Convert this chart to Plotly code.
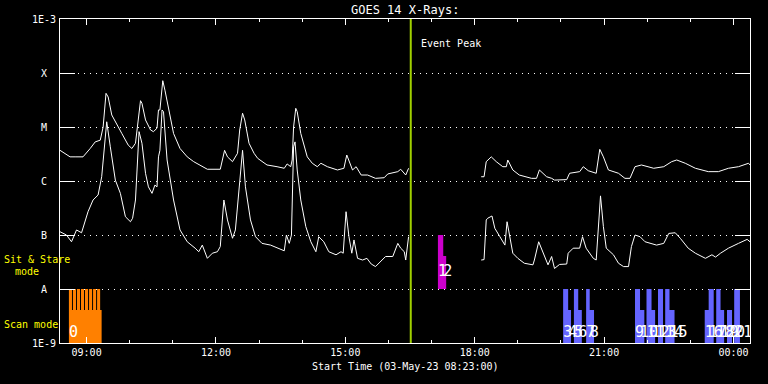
import numpy as np
import plotly.graph_objects as go

# ---------------- data ----------------
long_times_a = ["08:23","08:37","08:44","08:55","09:05","09:12","09:19","09:23","09:27","09:30",
                "09:35","09:42","09:49","09:58","10:03","10:08","10:11","10:15","10:17","10:22",
                "10:29","10:33","10:38","10:40","10:42","10:46","10:49","10:54","11:01","11:10",
                "11:20","11:29","11:38","11:48","12:06","12:09","12:12","12:16","12:23","12:30",
                "12:33","12:37","12:40","12:46","12:53","12:58","13:11","13:25","13:35","13:39",
                "13:44","13:46","13:48","13:51","13:53","13:58","14:07","14:14","14:21","14:26",
                "14:35","14:49","14:58","15:02","15:05","15:10","15:15","15:22","15:31","15:42",
                "15:54","15:59","16:13","16:17","16:24","16:28"]
long_flux_a = [3.7e-6,2.8e-6,2.8e-6,2.8e-6,4.0e-6,5.3e-6,5.7e-6,1.0e-5,4.2e-5,3.6e-5,
               1.67e-5,1.09e-5,7.6e-6,4.6e-6,4.0e-6,5.0e-6,1.17e-5,3.07e-5,2.75e-5,1.35e-5,
               8.8e-6,8.2e-6,9.5e-6,2.07e-5,2.07e-5,7.2e-5,4.8e-5,2.07e-5,7.6e-6,4.0e-6,
               2.8e-6,2.28e-6,1.98e-6,1.65e-6,1.65e-6,2.45e-6,3.7e-6,2.8e-6,2.28e-6,3.26e-6,
               8.8e-6,1.8e-5,1.35e-5,5.0e-6,3.26e-6,2.63e-6,1.98e-6,1.84e-6,1.72e-6,2.07e-6,
               1.84e-6,2.45e-6,1.0e-5,2.22e-5,1.92e-5,7.6e-6,2.8e-6,2.13e-6,1.84e-6,2.13e-6,
               1.84e-6,1.6e-6,1.72e-6,3.03e-6,2.45e-6,1.6e-6,1.84e-6,1.29e-6,1.29e-6,1.12e-6,
               1.15e-6,1.35e-6,1.49e-6,1.65e-6,1.29e-6,1.72e-6]

long_times_b = ["18:09","18:13","18:16","18:23","18:30","18:39","18:44","18:46","18:53","19:02",
                "19:19","19:26","19:30","19:40","19:47","19:51","20:08","20:12","20:26","20:31",
                "20:38","20:49","20:54","20:59","21:06","21:20","21:29","21:36","21:43","21:52",
                "22:09","22:23","22:34","22:41","22:53","23:07","23:25","23:39","23:53","00:07",
                "00:21","00:23"]
long_flux_b = [1.2e-6,1.2e-6,2.28e-6,2.8e-6,2.28e-6,1.84e-6,1.84e-6,2.45e-6,1.6e-6,1.29e-6,
               1.12e-6,1.12e-6,1.6e-6,1.2e-6,1.12e-6,1.04e-6,1.06e-6,1.39e-6,1.49e-6,1.84e-6,
               1.55e-6,1.39e-6,3.86e-6,2.8e-6,1.6e-6,1.39e-6,1.12e-6,1.12e-6,1.84e-6,1.98e-6,
               1.72e-6,1.84e-6,2.28e-6,2.45e-6,2.13e-6,1.72e-6,1.49e-6,1.49e-6,1.72e-6,1.84e-6,
               2.13e-6,1.98e-6]

short_times_a = ["08:23","08:32","08:39","08:46","08:53","08:58","09:02","09:09","09:16","09:21",
                 "09:25","09:28","09:33","09:40","09:47","09:54","10:01","10:04","10:08","10:11",
                 "10:13","10:17","10:22","10:26","10:31","10:35","10:38","10:40","10:42","10:45",
                 "10:47","10:52","11:01","11:10","11:20","11:31","11:36","11:41","11:48","11:55",
                 "12:02","12:06","12:11","12:16","12:23","12:27","12:32","12:37","12:41","12:48",
                 "12:55","13:04","13:16","13:25","13:35","13:38","13:42","13:45","13:48","13:50",
                 "13:53","13:58","14:05","14:12","14:19","14:23","14:30","14:37","14:47","14:54",
                 "14:57","15:01","15:05","15:09","15:12","15:17","15:24","15:30","15:36","15:42",
                 "15:47","15:56","16:06","16:13","16:17","16:22","16:24","16:28"]
short_flux_a = [1.15e-7,1.0e-7,7.5e-8,1.24e-7,1.1e-7,1.9e-7,2.7e-7,4.45e-7,5.5e-7,1.2e-6,
                5.0e-6,1.25e-5,4.3e-6,1.04e-6,5.9e-7,2.18e-7,1.76e-7,2.04e-7,4.45e-7,2.45e-6,
                8.2e-6,5.0e-6,1.39e-6,7.8e-7,5.9e-7,8.4e-7,7.8e-7,2.8e-6,3.7e-6,2.07e-5,
                1.92e-5,2.45e-6,4.45e-7,1.24e-7,7.5e-8,5.7e-8,4.9e-8,6.5e-8,3.7e-8,4.6e-8,
                4.9e-8,6.1e-8,4.45e-7,1.9e-7,8.7e-8,1.24e-7,7.8e-7,3.7e-6,7.8e-7,1.9e-7,
                9.3e-8,7.0e-8,6.5e-8,5.7e-8,5.1e-8,1.0e-7,7.0e-8,1.0e-7,4.3e-6,5.3e-6,
                1.6e-6,4.45e-7,1.43e-7,7.5e-8,4.9e-8,9.3e-8,7.5e-8,4.9e-8,4.3e-8,4.9e-8,
                4.6e-8,2.7e-7,9.3e-8,4.6e-8,8.1e-8,3.7e-8,3.44e-8,3.7e-8,2.9e-8,2.6e-8,
                3.0e-8,4.0e-8,4.0e-8,7.0e-8,5.7e-8,4.9e-8,3.44e-8,9.3e-8]

short_times_b = ["18:09","18:13","18:16","18:18","18:24","18:28","18:35","18:42","18:45","18:48",
                 "18:53","19:00","19:09","19:21","19:23","19:29","19:35","19:42","19:47","19:51",
                 "19:58","20:08","20:10","20:17","20:26","20:30","20:35","20:45","20:49","20:52",
                 "20:55","20:59","21:03","21:13","21:20","21:27","21:34","21:38","21:43","21:50",
                 "21:57","22:13","22:23","22:30","22:39","22:46","22:57","23:07","23:21","23:30",
                 "23:35","23:42","23:53","00:07","00:19","00:23"]
short_flux_b = [3.44e-8,3.5e-8,1.9e-7,2.04e-7,2.25e-7,1.33e-7,9.3e-8,6.5e-8,1.76e-7,1.07e-7,
                4.6e-8,3.7e-8,3.0e-8,2.8e-8,3.44e-8,7.5e-8,4.6e-8,2.8e-8,4.0e-8,2.4e-8,
                2.85e-8,2.9e-8,4.6e-8,5.7e-8,5.7e-8,9.3e-8,5.7e-8,3.7e-8,3.44e-8,1.24e-7,
                5.3e-7,1.43e-7,5.7e-8,4.3e-8,3.0e-8,2.6e-8,2.6e-8,6.1e-8,1.0e-7,9.3e-8,
                7.5e-8,6.5e-8,7.0e-8,1.07e-7,1.1e-7,8.7e-8,5.7e-8,4.6e-8,3.7e-8,4.3e-8,
                3.9e-8,4.6e-8,5.7e-8,7.0e-8,8.3e-8,7.5e-8]

event_peak = "16:31"

# Scan-mode observation 0 (orange): overall block plus raster stripes
orange_starts = ["08:35:24","08:35:24","08:41:00","08:46:36","08:52:12","08:57:48","09:03:24","09:09:00","09:14:36"]
orange_ends   = ["09:20:54","08:39:39","08:45:15","08:50:51","08:56:27","09:02:03","09:07:39","09:13:15","09:18:51"]
orange_tops   = [4.1e-9,1e-8,1e-8,1e-8,1e-8,1e-8,1e-8,1e-8,1e-8]
orange_ids = ["0"]
orange_id_times = ["08:35:24"]

# Sit & Stare observations (magenta)
sit_ids    = ["1","2"]
sit_starts = ["17:08:48","17:16:12"]
sit_ends   = ["17:16:12","17:20:18"]
sit_tops   = [1e-7,4.1e-8]

# Scan-mode observations (blue)
scan_ids    = ["3","4","5","6","7","8","9","10","11","12","13","14","15","16","17","18","19","20","21"]
scan_starts = ["20:03","20:10","20:18","20:24","20:35","20:40","21:43","21:50","21:59","22:06",
               "22:15","22:25","22:31","23:20","23:25:30","23:36","23:42","23:51","00:01"]
scan_ends   = ["20:10","20:14","20:24","20:29","20:40","20:46","21:50","21:56","22:06","22:11",
               "22:22","22:31","22:38","23:25:30","23:32:30","23:42","23:47","23:58","00:09"]
scan_tops   = [1e-8,4.1e-9,1e-8,4.1e-9,1e-8,4.1e-9,1e-8,4.1e-9,1e-8,4.1e-9,
               1e-8,1e-8,4.1e-9,4.1e-9,1e-8,1e-8,4.1e-9,4.1e-9,1e-8]

ytick_vals = [1e-9,1e-8,1e-7,1e-6,1e-5,1e-4,1e-3]
ytick_text = ["1E-9","A","B","C","M","X","1E-3"]
xtick_times = ["09:00","12:00","15:00","18:00","21:00","00:00"]

# ---------------- helpers ----------------
def ts(t):
    h = int(t.split(":")[0])
    day = 3 if h >= 8 else 4
    if t.count(":") == 1:
        t = t + ":00"
    return f"2023-05-{day:02d} {t}"

def rects(starts, ends, tops, base):
    xs, ys = [], []
    for s, e, top in zip(starts, ends, tops):
        xs += [ts(s), ts(s), ts(e), ts(e), ts(s), None]
        ys += [base, top, top, base, base, None]
    return xs, ys

FONT = "DejaVu Sans Mono"
fig = go.Figure()

# observation blocks
for starts, ends, tops, base, color in [
    (orange_starts, orange_ends, orange_tops, 1e-9, "#FF8000"),
    (sit_starts, sit_ends, sit_tops, 1e-8, "#CC00CC"),
    (scan_starts, scan_ends, scan_tops, 1e-9, "#6464FF"),
]:
    xs, ys = rects(starts, ends, tops, base)
    fig.add_trace(go.Scatter(x=xs, y=ys, mode="lines", fill="toself", fillcolor=color,
                             line=dict(width=0, color=color), hoverinfo="skip"))

# GOES curves
for t, f in [(long_times_a, long_flux_a), (long_times_b, long_flux_b),
             (short_times_a, short_flux_a), (short_times_b, short_flux_b)]:
    fig.add_trace(go.Scatter(x=[ts(v) for v in t], y=f, mode="lines",
                             line=dict(color="white", width=1)))

# event peak line
fig.add_trace(go.Scatter(x=[ts(event_peak), ts(event_peak)], y=[1e-9, 1e-3], mode="lines",
                         line=dict(color="#A0D000", width=2)))

# observation labels
for ids, starts, yv in [(orange_ids, orange_id_times, 1.5e-9), (sit_ids, sit_starts, 2.0e-8),
                        (scan_ids, scan_starts, 1.5e-9)]:
    fig.add_trace(go.Scatter(x=[ts(s) for s in starts], y=[yv] * len(ids), mode="text",
                             text=ids, textposition="middle right",
                             textfont=dict(family=FONT, size=15, color="white")))

annotations = []
for v, txt in zip(ytick_vals, ytick_text):
    annotations.append(dict(x=(44 - 60) / 690, xref="paper", y=np.log10(v), yref="y",
                            text=txt, showarrow=False, xanchor="center", yanchor="middle",
                            font=dict(family=FONT, size=10, color="white")))
annotations += [
    dict(x=(405 - 60) / 690, xref="paper", y=1 + (19.3 - 10) / 324, yref="paper",
         text="GOES 14 X-Rays:", showarrow=False, xanchor="center", yanchor="middle",
         font=dict(family=FONT, size=12, color="white")),
    dict(x=(405 - 60) / 690, xref="paper", y=-(367 - 343) / 324, yref="paper",
         text="Start Time (03-May-23 08:23:00)", showarrow=False, xanchor="center", yanchor="middle",
         font=dict(family=FONT, size=10, color="white")),
    dict(x=ts(event_peak), xref="x", xshift=8, y=(343 - 43) / 324, yref="paper",
         text="Event Peak", showarrow=False, xanchor="left", yanchor="middle",
         font=dict(family=FONT, size=10, color="white")),
    dict(x=(2 - 60) / 690, xref="paper", y=(343 - 259) / 324, yref="paper",
         text="Sit & Stare", showarrow=False, xanchor="left", yanchor="middle",
         font=dict(family=FONT, size=10, color="yellow")),
    dict(x=(13 - 60) / 690, xref="paper", y=(343 - 271) / 324, yref="paper",
         text="mode", showarrow=False, xanchor="left", yanchor="middle",
         font=dict(family=FONT, size=10, color="yellow")),
    dict(x=(2 - 60) / 690, xref="paper", y=(343 - 324) / 324, yref="paper",
         text="Scan mode", showarrow=False, xanchor="left", yanchor="middle",
         font=dict(family=FONT, size=10, color="yellow")),
]

fig.update_layout(
    width=768, height=384,
    margin=dict(l=60, r=18, t=19, b=41),
    paper_bgcolor="black", plot_bgcolor="black",
    showlegend=False,
    font=dict(family=FONT, color="white", size=10),
    annotations=annotations,
    xaxis=dict(type="date", range=[ts("08:23"), ts("00:23")],
               showgrid=False, zeroline=False,
               showline=True, linecolor="white", linewidth=1, mirror="ticks",
               ticks="inside", ticklen=6, tickcolor="white", tickwidth=1,
               tickvals=[ts(t) for t in xtick_times], ticktext=xtick_times,
               tickfont=dict(family=FONT, size=10, color="white"),
               minor=dict(ticks="inside", ticklen=3, tickcolor="white",
                          dtick=3600000, tick0=ts("09:00"), showgrid=False)),
    yaxis=dict(type="log", range=[-9, -3],
               showline=True, linecolor="white", linewidth=1, mirror="ticks",
               ticks="inside", ticklen=15, tickcolor="white", tickwidth=1,
               tickvals=ytick_vals[1:-1], showticklabels=False,
               showgrid=True, gridcolor="white", gridwidth=1, griddash="1px,5px",
               zeroline=False),
)

fig.write_html("out.html", config={"displayModeBar": False},
               post_script="document.body.style.margin='0px';document.body.style.background='black';")
